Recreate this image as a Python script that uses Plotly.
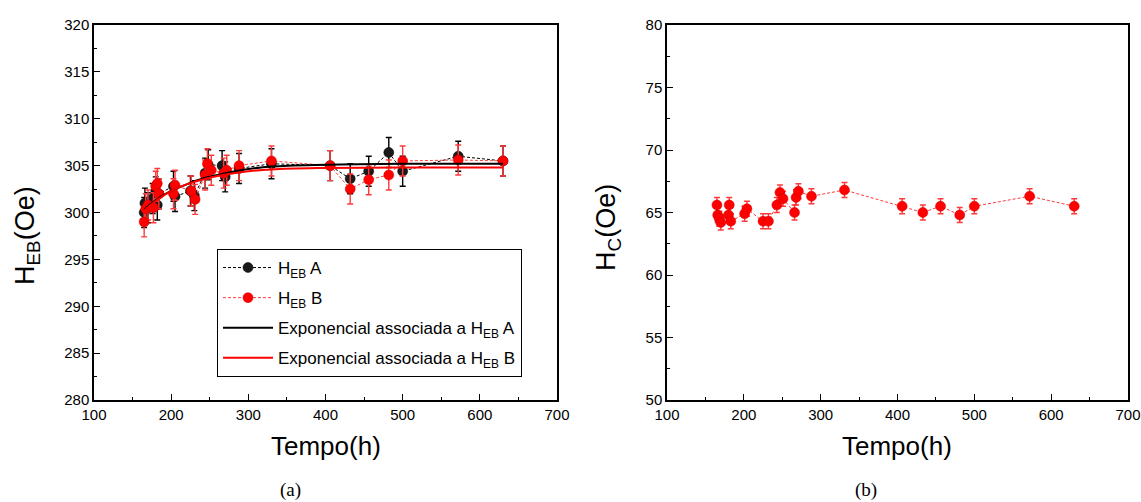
import plotly.graph_objects as go

# ---- data ----
tA = [165, 166, 170, 176, 180, 182, 184, 203, 205, 225, 230, 244, 248, 266, 270, 288, 330, 406, 432, 456, 482, 500, 572, 630]
hebA = [300.0, 301.0, 300.5, 301.5, 302.2, 300.8, 302.0, 302.8, 301.7, 302.3, 301.8, 304.2, 305.1, 305.0, 303.8, 304.7, 305.2, 305.0, 303.6, 304.4, 306.4, 304.4, 306.0, 305.5]
errA = [1.6] * len(tA)

tB = [165, 167, 170, 177, 180, 182, 184, 203, 205, 226, 231, 244, 247, 252, 268, 272, 288, 330, 406, 432, 456, 482, 500, 572, 630]
hebB = [299.0, 300.4, 300.8, 300.5, 302.8, 303.1, 302.0, 302.0, 302.9, 302.3, 301.4, 304.0, 305.2, 304.5, 304.2, 304.5, 305.0, 305.5, 305.0, 302.5, 303.5, 304.0, 305.5, 305.6, 305.5]
errB = [1.6] * len(tB)

tFit = [165, 175, 185, 200, 220, 240, 260, 290, 330, 400, 500, 630]
fitA = [300.3, 301.0, 301.6, 302.3, 303.0, 303.6, 304.0, 304.5, 304.9, 305.1, 305.2, 305.2]
fitB = [300.2, 300.9, 301.5, 302.3, 303.0, 303.5, 303.9, 304.3, 304.6, 304.75, 304.8, 304.8]

tC = [165, 166, 168, 170, 180, 181, 183, 201, 204, 225, 232, 243, 247, 251, 266, 268, 271, 288, 331, 406, 433, 456, 481, 500, 572, 630]
hc = [65.6, 64.8, 64.5, 64.2, 64.8, 65.6, 64.3, 64.9, 65.3, 64.3, 64.3, 65.6, 66.6, 66.1, 65.0, 66.2, 66.7, 66.3, 66.8, 65.5, 65.0, 65.5, 64.8, 65.5, 66.3, 65.5]
errC = [0.6] * len(tC)

xticks = [100, 200, 300, 400, 500, 600, 700]

FONT = "Liberation Sans, Arial, sans-serif"
SERIF = "Liberation Serif, Times New Roman, serif"
RED = "#ff0000"
ERR_RED = "#ff3a3a"
DASH = "3px,2px"

fig = go.Figure()

fig.add_trace(go.Scatter(
    x=tA, y=hebA, mode="lines+markers", name="H<sub>EB</sub> A",
    legendgroup="a",
    line=dict(color="black", width=1, dash=DASH),
    marker=dict(size=10, color="#1a1a1a", line=dict(color="black", width=0.5)),
    error_y=dict(type="data", array=errA, color="black", thickness=1.4, width=3),
    xaxis="x", yaxis="y"))

fig.add_trace(go.Scatter(
    x=tB, y=hebB, mode="lines+markers", name="H<sub>EB</sub> B",
    legendgroup="b",
    line=dict(color=ERR_RED, width=1, dash=DASH),
    marker=dict(size=10, color=RED, line=dict(color="#d00000", width=0.5)),
    error_y=dict(type="data", array=errB, color=ERR_RED, thickness=1.4, width=3),
    xaxis="x", yaxis="y"))

fig.add_trace(go.Scatter(
    x=tFit, y=fitA, mode="lines", name="Exponencial associada a H<sub>EB</sub> A",
    legendgroup="c", line=dict(color="black", width=2, shape="spline"),
    xaxis="x", yaxis="y"))

fig.add_trace(go.Scatter(
    x=tFit, y=fitB, mode="lines", name="Exponencial associada a H<sub>EB</sub> B",
    legendgroup="d", line=dict(color=RED, width=2, shape="spline"),
    xaxis="x", yaxis="y"))

fig.add_trace(go.Scatter(
    x=tC, y=hc, mode="lines+markers", name="H<sub>C</sub>", showlegend=False,
    line=dict(color=ERR_RED, width=1, dash=DASH),
    marker=dict(size=10, color=RED, line=dict(color="#d00000", width=0.5)),
    error_y=dict(type="data", array=errC, color=ERR_RED, thickness=1.4, width=3),
    xaxis="x2", yaxis="y2"))

W, H = 1141, 502
top, bottom = 25, 400
ydom = [1 - bottom / H, 1 - top / H]

def xax(domain, anchor):
    return dict(domain=domain, anchor=anchor, range=[100, 700], tickvals=xticks,
                ticks="inside", ticklen=6, tickwidth=1.2, tickcolor="black",
                minor=dict(dtick=50, ticks="inside", ticklen=3, tickwidth=1.2, tickcolor="black"),
                showline=True, linecolor="black", linewidth=1.5, mirror=True,
                showgrid=False, zeroline=False, automargin=False,
                tickfont=dict(family=FONT, size=15, color="black"))

def yax(domain, anchor, rng):
    return dict(domain=domain, anchor=anchor, range=rng, dtick=5,
                ticks="inside", ticklen=6, tickwidth=1.2, tickcolor="black",
                minor=dict(dtick=2.5, ticks="inside", ticklen=3, tickwidth=1.2, tickcolor="black"),
                showline=True, linecolor="black", linewidth=1.5, mirror=True,
                showgrid=False, zeroline=False, automargin=False,
                tickfont=dict(family=FONT, size=15, color="black"))

def ann(text, x, y, size, family=FONT, angle=0):
    return dict(text=text, x=x / W, y=1 - y / H, xref="paper", yref="paper",
                xanchor="center", yanchor="middle", showarrow=False, textangle=angle,
                font=dict(family=family, size=size, color="black"))

fig.update_layout(
    width=W, height=H,
    margin=dict(l=0, r=0, t=0, b=0, autoexpand=False),
    paper_bgcolor="white", plot_bgcolor="white",
    xaxis=xax([94 / W, 557 / W], "y"),
    yaxis=yax(ydom, "x", [280, 320]),
    xaxis2=xax([667 / W, 1128 / W], "y2"),
    yaxis2=yax(ydom, "x2", [50, 80]),
    legend=dict(x=217 / W, y=1 - 249 / H, xanchor="left", yanchor="top",
                bordercolor="black", borderwidth=1, bgcolor="white",
                font=dict(family=FONT, size=17, color="black"),
                traceorder="grouped", tracegroupgap=5, itemwidth=50),
    annotations=[
        ann("H<sub>EB</sub>(Oe)", 27, 236, 27, angle=-90),
        ann("H<sub>C</sub>(Oe)", 608, 228, 27, angle=-90),
        ann("Tempo(h)", 326, 446, 26),
        ann("Tempo(h)", 897, 446, 26),
        ann("(a)", 290, 490, 19, family=SERIF),
        ann("(b)", 866, 490, 19, family=SERIF),
    ],
)

fig.write_html("out.html")
